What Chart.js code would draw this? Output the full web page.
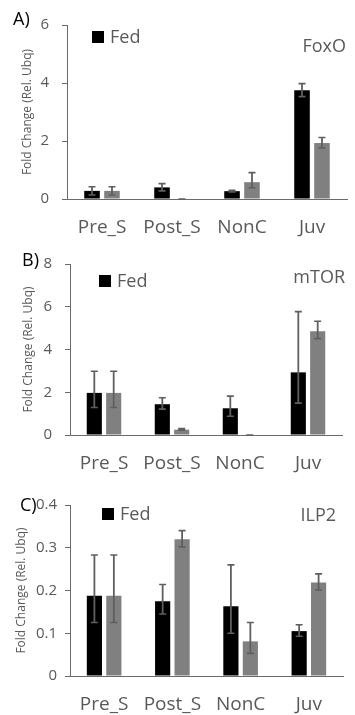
<!DOCTYPE html>
<html>
<head>
<meta charset="utf-8">
<script src="https://cdn.jsdelivr.net/npm/chart.js@4.4.1/dist/chart.umd.min.js"></script>
<style>
  html, body { margin: 0; padding: 0; background: #fff; }
  #wrap { position: relative; width: 355px; height: 715px; overflow: hidden; }
  .panel { position: absolute; left: 0; width: 355px; }
</style>
</head>
<body>
<div id="wrap">
  <div class="panel" style="top:0;height:245px"><canvas id="chartA" width="355" height="245"></canvas></div>
  <div class="panel" style="top:240px;height:245px"><canvas id="chartB" width="355" height="245"></canvas></div>
  <div class="panel" style="top:470px;height:245px"><canvas id="chartC" width="355" height="245"></canvas></div>
</div>
<script>
const categories = ['Pre_S', 'Post_S', 'NonC', 'Juv'];

// A) FoxO
const foxoFed = [0.28, 0.40, 0.27, 3.75];
const foxoFedErrUp = [0.14, 0.13, 0.03, 0.23];
const foxoFedErrDown = [0.14, 0.12, 0.03, 0.22];
const foxoOther = [0.28, 0, 0.58, 1.93];
const foxoOtherErrUp = [0.14, 0, 0.33, 0.19];
const foxoOtherErrDown = [0.14, 0, 0.19, 0.17];

// B) mTOR
const mtorFed = [1.97, 1.44, 1.25, 2.93];
const mtorFedErrUp = [1.01, 0.30, 0.57, 2.84];
const mtorFedErrDown = [0.68, 0.23, 0.37, 1.44];
const mtorOther = [1.97, 0.25, 0, 4.85];
const mtorOtherErrUp = [1.01, 0.05, 0, 0.47];
const mtorOtherErrDown = [0.68, 0.03, 0, 0.34];

// C) ILP2
const ilpFed = [0.188, 0.175, 0.163, 0.105];
const ilpFedErrUp = [0.095, 0.039, 0.097, 0.015];
const ilpFedErrDown = [0.063, 0.030, 0.063, 0.012];
const ilpOther = [0.188, 0.320, 0.081, 0.219];
const ilpOtherErrUp = [0.095, 0.020, 0.044, 0.020];
const ilpOtherErrDown = [0.063, 0.018, 0.028, 0.018];

const yTicksA = [0, 2, 4, 6];
const yTicksB = [0, 2, 4, 6, 8];
const yTicksC = [0, 0.1, 0.2, 0.3, 0.4];

const FONT = '"Open Sans", sans-serif';
const GREY_TEXT = '#595959';

const errorBars = {
  id: 'errorBars',
  afterDatasetsDraw(chart) {
    const ctx = chart.ctx;
    const y = chart.scales.y;
    ctx.save();
    ctx.strokeStyle = '#5f5f5f';
    chart.data.datasets.forEach((ds, i) => {
      const meta = chart.getDatasetMeta(i);
      meta.data.forEach((bar, j) => {
        const v = ds.data[j];
        const top = y.getPixelForValue(v + ds.errUp[j]);
        const bot = y.getPixelForValue(v - ds.errDown[j]);
        ctx.lineWidth = 1.8;
        ctx.beginPath();
        ctx.moveTo(bar.x, top);
        ctx.lineTo(bar.x, bot);
        ctx.stroke();
        ctx.lineWidth = 1.6;
        ctx.beginPath();
        ctx.moveTo(bar.x - 3.5, top);
        ctx.lineTo(bar.x + 3.5, top);
        ctx.moveTo(bar.x - 3.5, bot);
        ctx.lineTo(bar.x + 3.5, bot);
        ctx.stroke();
      });
    });
    ctx.restore();
  }
};

const panelText = {
  id: 'panelText',
  afterDraw(chart, args, o) {
    const ctx = chart.ctx;
    const ds = chart.data.datasets[0];
    ctx.save();
    ctx.font = '18px ' + FONT;
    ctx.textBaseline = 'alphabetic';
    ctx.fillStyle = '#000';
    ctx.textAlign = 'left';
    ctx.fillText(o.letter, o.letterX, o.letterY);
    ctx.fillStyle = ds.backgroundColor;
    ctx.fillRect(o.legendX, o.legendY - 12, 12, 12);
    ctx.fillStyle = GREY_TEXT;
    ctx.fillText(ds.label, o.legendX + 18, o.legendY);
    ctx.textAlign = 'right';
    ctx.fillText(o.gene, o.geneX, o.geneY);
    ctx.restore();
  }
};

function makeChart(id, p) {
  new Chart(document.getElementById(id), {
    type: 'bar',
    data: {
      labels: categories,
      datasets: [
        { label: 'Fed', data: p.fed, errUp: p.fedUp, errDown: p.fedDown,
          backgroundColor: '#000000', categoryPercentage: 0.57, barPercentage: 0.78 },
        { label: 'Starved', data: p.other, errUp: p.otherUp, errDown: p.otherDown,
          backgroundColor: '#808080', categoryPercentage: 0.57, barPercentage: 0.78 }
      ]
    },
    options: {
      responsive: false,
      animation: false,
      events: [],
      layout: { padding: { left: 0, right: 355 - p.right, top: p.top, bottom: 0 } },
      plugins: {
        legend: { display: false },
        tooltip: { enabled: false },
        panelText: p.text
      },
      scales: {
        x: {
          grid: { display: false, drawTicks: false },
          border: { display: true, color: '#6a6a6a', width: 1 },
          ticks: { color: GREY_TEXT, font: { family: FONT, size: 19 }, padding: 17 },
          afterFit(s) { s.height = p.h - p.bottom; }
        },
        y: {
          min: 0,
          max: p.ticks[p.ticks.length - 1],
          afterBuildTicks(s) { s.ticks = p.ticks.map(v => ({ value: v })); },
          grid: { drawOnChartArea: false, drawTicks: true, tickLength: 5, color: '#6a6a6a' },
          border: { display: true, color: '#6a6a6a', width: 1 },
          ticks: { color: GREY_TEXT, font: { family: FONT, size: 15 }, padding: p.tickPad },
          title: {
            display: true,
            text: 'Fold Change (Rel. Ubq)',
            color: GREY_TEXT,
            font: { family: FONT, size: 12 },
            padding: { top: p.titleX - 7.2, bottom: 0 }
          },
          afterFit(s) { s.width = p.left; }
        }
      }
    },
    plugins: [errorBars, panelText]
  });
}

makeChart('chartA', {
  fed: foxoFed, fedUp: foxoFedErrUp, fedDown: foxoFedErrDown,
  other: foxoOther, otherUp: foxoOtherErrUp, otherDown: foxoOtherErrDown,
  ticks: yTicksA, h: 245, left: 67, right: 347, top: 25, bottom: 199, tickPad: 13, titleX: 27.5,
  text: { letter: 'A)', letterX: 13, letterY: 25, legendX: 92, legendY: 43, gene: 'FoxO', geneX: 346, geneY: 52 }
});

makeChart('chartB', {
  fed: mtorFed, fedUp: mtorFedErrUp, fedDown: mtorFedErrDown,
  other: mtorOther, otherUp: mtorOtherErrUp, otherDown: mtorOtherErrDown,
  ticks: yTicksB, h: 245, left: 70, right: 342, top: 24, bottom: 195, tickPad: 13, titleX: 29,
  text: { letter: 'B)', letterX: 22, letterY: 26, legendX: 99, legendY: 47, gene: 'mTOR', geneX: 345, geneY: 43 }
});

makeChart('chartC', {
  fed: ilpFed, fedUp: ilpFedErrUp, fedDown: ilpFedErrDown,
  other: ilpOther, otherUp: ilpOtherErrUp, otherDown: ilpOtherErrDown,
  ticks: yTicksC, h: 245, left: 70, right: 343, top: 35, bottom: 206, tickPad: 8, titleX: 22,
  text: { letter: 'C)', letterX: 20, letterY: 41, legendX: 102, legendY: 50, gene: 'ILP2', geneX: 336, geneY: 51 }
});
</script>
</body>
</html>
